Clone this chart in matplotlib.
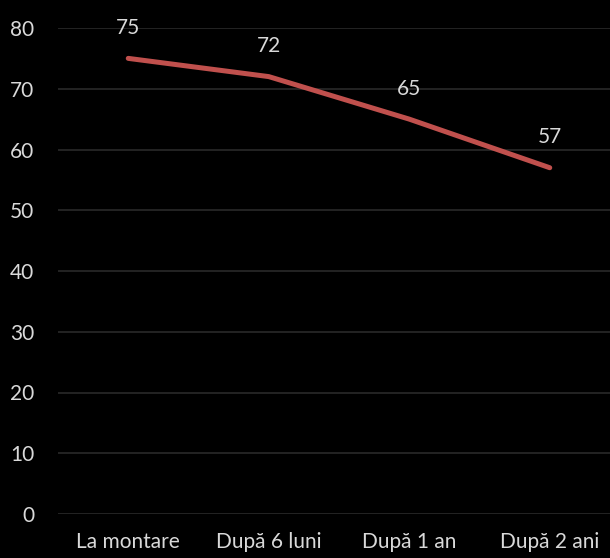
import numpy as np
import matplotlib.pyplot as plt

categories = ["La montare", "După 6 luni", "După 1 an", "După 2 ani"]
values = [75, 72, 65, 57]
yticks = [0, 10, 20, 30, 40, 50, 60, 70, 80]

text_col = "#d9d9d9"
line_col = "#c0504d"

plt.rcParams['font.family'] = ['Lato', 'DejaVu Sans']

fig = plt.figure(figsize=(6.1, 5.58), dpi=100, facecolor="black")
ax = fig.add_axes([58 / 610, 1 - 514 / 558, 562 / 610, 486 / 558])
ax.set_facecolor("black")

x = np.arange(len(categories))
ax.plot(x, values, color=line_col, lw=3.6, solid_capstyle="round", solid_joinstyle="round", zorder=3)

for xi, v in zip(x, values):
    ax.annotate(str(v), (xi, v), xytext=(0, 22), textcoords="offset points",
                ha="center", va="center", color=text_col, fontsize=15)

ax.set_xlim(-0.5, 3.5)
ax.set_ylim(0, 80)
ax.set_yticks(yticks)
ax.set_xticks(x)
ax.set_xticklabels(categories)
ax.grid(axis="y", color="#292929", lw=1.2)
ax.set_axisbelow(True)
for s in ax.spines.values():
    s.set_visible(False)
ax.tick_params(axis="both", length=0, colors=text_col, labelsize=15)
ax.tick_params(axis="y", pad=17)
ax.tick_params(axis="x", pad=13)

fig.savefig("out.png", dpi=100, facecolor="black")
